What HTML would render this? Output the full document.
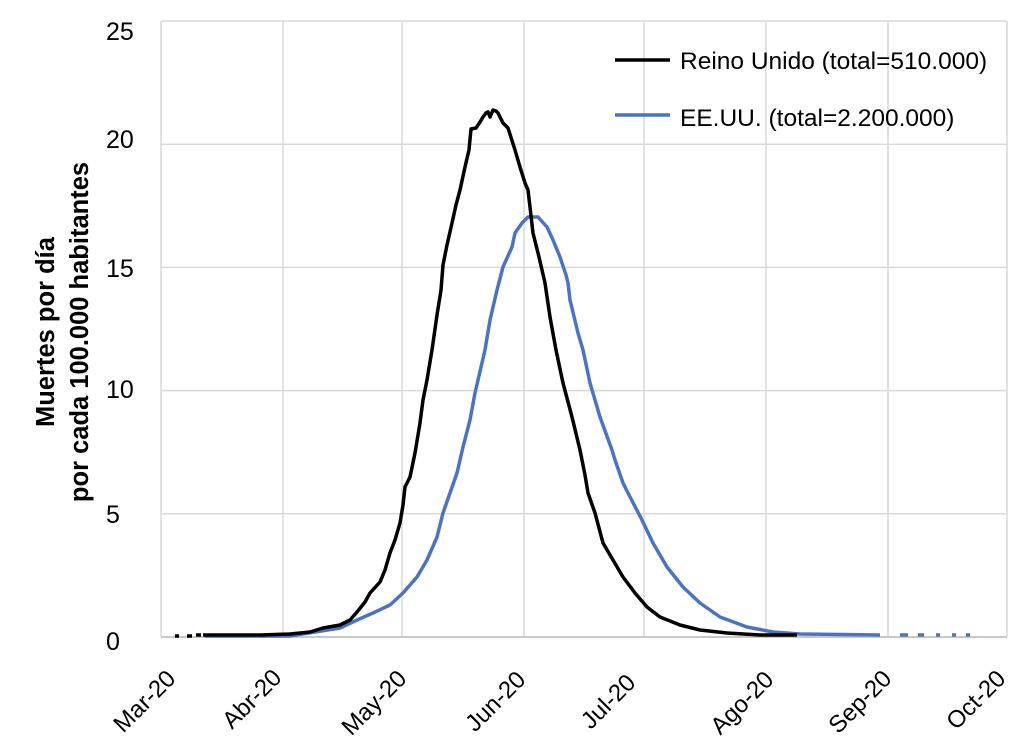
<!DOCTYPE html>
<html><head><meta charset="utf-8"><style>
html,body{margin:0;padding:0;background:#fff;}
svg{display:block;}
text{font-family:"Liberation Sans",Arial,sans-serif;fill:#000;}
</style></head><body>
<svg width="1024" height="744" viewBox="0 0 1024 744" xmlns="http://www.w3.org/2000/svg">
<rect width="1024" height="744" fill="#fff"/>
<g stroke="#d9d9d9" stroke-width="1.5" fill="none">
<line x1="161" y1="21" x2="1007" y2="21"/>
<line x1="161" y1="144.2" x2="1007" y2="144.2"/>
<line x1="161" y1="267.4" x2="1007" y2="267.4"/>
<line x1="161" y1="390.6" x2="1007" y2="390.6"/>
<line x1="161" y1="513.8" x2="1007" y2="513.8"/>
<line x1="161" y1="21" x2="161" y2="637"/>
<line x1="283" y1="21" x2="283" y2="637"/>
<line x1="402" y1="21" x2="402" y2="637"/>
<line x1="524" y1="21" x2="524" y2="637"/>
<line x1="644" y1="21" x2="644" y2="637"/>
<line x1="766" y1="21" x2="766" y2="637"/>
<line x1="888" y1="21" x2="888" y2="637"/>
<line x1="1007" y1="21" x2="1007" y2="637"/>
</g>
<line x1="161" y1="637" x2="1007" y2="637" stroke="#c8c8c8" stroke-width="2"/>

<!-- Y tick labels -->
<g font-size="25">
<text x="106" y="40">25</text>
<text x="106" y="148">20</text>
<text x="106" y="277">15</text>
<text x="106" y="398">10</text>
<text x="106" y="523">5</text>
<text x="106" y="650">0</text>
</g>

<!-- Y axis title -->
<g font-size="25.5" font-weight="bold" text-anchor="middle">
<text transform="translate(54,332) rotate(-90)">Muertes por día</text>
<text transform="translate(88,332) rotate(-90)">por cada 100.000 habitantes</text>
</g>

<!-- X tick labels -->
<g font-size="24" text-anchor="end">
<text transform="translate(177,680) rotate(-45)">Mar-20</text>
<text transform="translate(283,679) rotate(-45)">Abr-20</text>
<text transform="translate(408,680) rotate(-45)">May-20</text>
<text transform="translate(527,681) rotate(-45)">Jun-20</text>
<text transform="translate(637,684) rotate(-45)">Jul-20</text>
<text transform="translate(775,681) rotate(-45)">Ago-20</text>
<text transform="translate(893,680) rotate(-45)">Sep-20</text>
<text transform="translate(1007,680) rotate(-45)">Oct-20</text>
</g>

<!-- US series -->
<polyline fill="none" stroke="#4a74c0" stroke-width="3.5" stroke-linejoin="round" points="205,636 290,636 340,628 357,620 373,613 390,605 403,593 417,577 427,560 437,537 443,513 450,493 457,473 463,447 470,420 475,393 478,380 485,350 490,320 497,290 503,267 512,247 515,233 522,223 528,217 538,217 547,227 553,240 560,257 566,275 568,283 570,300 578,333 583,350 590,383 600,417 612,450 615,460 623,483 628,493 642,520 653,543 667,567 683,587 700,603 720,617 747,627 773,632 800,634 880,635"/>
<g stroke="#4a74c0" stroke-width="3.5">
<line x1="900" y1="635" x2="908" y2="635"/>
<line x1="918" y1="635" x2="924" y2="635"/>
<line x1="936" y1="635" x2="940" y2="635"/>
<line x1="952" y1="635" x2="956" y2="635"/>
<line x1="966" y1="635" x2="970" y2="635"/>
</g>

<!-- UK series -->
<g stroke="#000" stroke-width="3.5">
<line x1="175" y1="636" x2="179" y2="636"/>
<line x1="187" y1="636" x2="192" y2="636"/>
<line x1="196" y1="635" x2="201" y2="635"/>
</g>
<polyline fill="none" stroke="#000" stroke-width="3.5" stroke-linejoin="round" points="203,635 230,635 260,635 290,634 310,632 323,628 340,625 350,620 357,612 365,602 370,593 380,582 385,570 390,553 395,540 400,523 403,505 405,487 410,477 415,453 420,423 423,400 427,380 432,350 437,315 441,290 443,265 447,245 452,223 456,205 460,190 465,167 469,150 471,129 476,128 480,122 483,117 486,113 488,112 490,117 493,110 496,111 498,113 503,123 508,128 515,150 520,167 525,183 528,190 530,207 533,233 539,257 545,283 550,317 556,350 563,383 572,417 580,450 585,475 588,493 595,513 603,543 613,560 623,577 635,593 647,607 660,617 680,625 700,630 727,633 760,635 797,635"/>

<!-- Legend -->
<line x1="615" y1="60" x2="670" y2="60" stroke="#000" stroke-width="3.5"/>
<text x="680" y="69" font-size="24.5">Reino Unido (total=510.000)</text>
<line x1="615" y1="115" x2="670" y2="115" stroke="#4a74c0" stroke-width="3.5"/>
<text x="680" y="126" font-size="24.5">EE.UU. (total=2.200.000)</text>
</svg>
</body></html>
